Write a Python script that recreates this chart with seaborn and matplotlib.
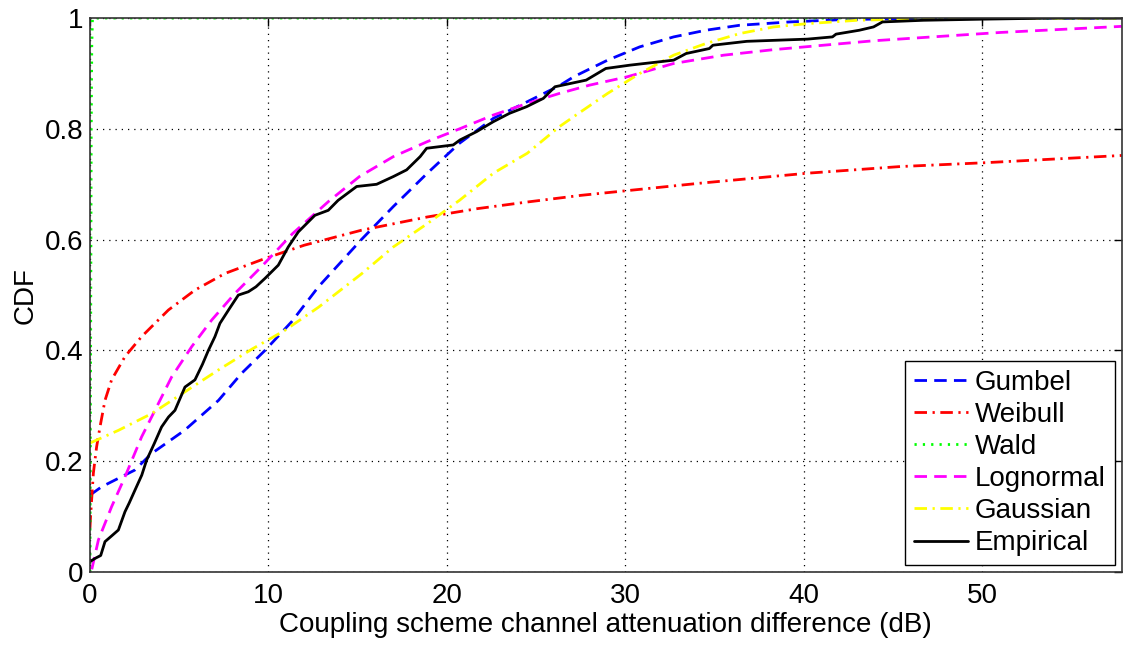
import numpy as np
import pandas as pd
import matplotlib
matplotlib.use("Agg")
import matplotlib.pyplot as plt
import seaborn as sns

# ---- data ----
gumbel_x = [0, 0.65, 2.5, 3.45, 5.3, 7.2, 8.5, 9.8, 11.3, 12.8, 15.2, 17.0, 18.9, 20.7,
            22.6, 24.5, 26.3, 27.1, 29.0, 30.8, 32.7, 34.5, 36.4, 39.2, 42.0, 47.0, 57.8]
gumbel_y = [0.139, 0.154, 0.184, 0.214, 0.256, 0.31, 0.359, 0.40, 0.452, 0.515, 0.600, 0.660,
            0.720, 0.774, 0.819, 0.849, 0.878, 0.894, 0.924, 0.948, 0.966, 0.978, 0.987,
            0.993, 0.997, 1.0, 1.0]

weibull_x = [0.0, 0.03, 0.09, 0.19, 0.37, 0.56, 0.84, 1.21, 1.96, 2.89, 4.39, 5.88, 7.56,
             9.8, 12.0, 15.2, 18.9, 21.7, 24.5, 27.5, 34.2, 40.2, 45.4, 50.2, 57.8]
weibull_y = [0.08, 0.10, 0.13, 0.179, 0.226, 0.262, 0.31, 0.347, 0.389, 0.425, 0.473, 0.509,
             0.539, 0.566, 0.59, 0.617, 0.641, 0.656, 0.668, 0.68, 0.702, 0.72, 0.732,
             0.739, 0.752]

wald_x = [0.0, 0.04, 0.07, 0.1, 0.14, 57.8]
wald_y = [0.0, 0.45, 0.8, 0.95, 1.0, 1.0]

lognormal_x = [0.1, 0.47, 1.21, 1.96, 2.89, 3.64, 4.57, 5.7, 6.82, 8.12, 9.6, 11.35, 13.4,
               15.1, 17.0, 18.9, 20.7, 22.6, 24.5, 26.3, 28.0, 30.1, 32.7, 35.5, 38.3,
               41.1, 43.9, 47.2, 51.0, 57.8]
lognormal_y = [0.005, 0.058, 0.118, 0.172, 0.244, 0.292, 0.352, 0.407, 0.455, 0.503, 0.551,
               0.611, 0.670, 0.714, 0.75, 0.777, 0.80, 0.825, 0.846, 0.864, 0.879, 0.894,
               0.918, 0.933, 0.943, 0.951, 0.959, 0.966, 0.974, 0.985]

gaussian_x = [0, 1.6, 3.45, 5.3, 7.2, 9.1, 10.9, 12.8, 15.2, 17.0, 18.9, 20.7, 22.6, 24.5,
              26.3, 27.1, 29.0, 30.8, 32.7, 34.5, 36.4, 38.3, 40.2, 43.0, 48.0, 57.8]
gaussian_y = [0.233, 0.256, 0.286, 0.325, 0.365, 0.403, 0.436, 0.478, 0.538, 0.587, 0.629,
              0.671, 0.72, 0.756, 0.804, 0.822, 0.864, 0.90, 0.933, 0.954, 0.972, 0.984,
              0.99, 0.996, 1.0, 1.0]

empirical_x = [0.0, 0.3, 0.6, 0.84, 1.2, 1.59, 1.96, 2.2, 2.52, 2.9, 3.17, 3.6, 4.01, 4.4,
               4.76, 5.0, 5.32, 5.88, 6.3, 6.63, 7.0, 7.28, 7.8, 8.31, 8.87, 9.3, 9.8, 10.55,
               11.11, 11.67, 12.6, 13.35, 13.9, 14.94, 16.06, 17.0, 17.74, 18.5, 18.86,
               20.35, 20.73, 21.66, 22.6, 23.5, 24.46, 25.4, 26.05, 27.8, 28.9, 30.25, 32.7,
               33.4, 34.7, 34.9, 36.8, 40.2, 41.6, 41.8, 43.1, 43.9, 44.4, 46.7, 50.0, 54.0,
               57.8]
empirical_y = [0.019, 0.025, 0.03, 0.055, 0.065, 0.076, 0.109, 0.125, 0.148, 0.175, 0.202,
               0.232, 0.262, 0.28, 0.292, 0.31, 0.334, 0.347, 0.375, 0.40, 0.425, 0.449,
               0.475, 0.50, 0.506, 0.515, 0.53, 0.554, 0.587, 0.614, 0.644, 0.653, 0.671,
               0.696, 0.70, 0.714, 0.726, 0.75, 0.765, 0.771, 0.78, 0.795, 0.813, 0.828,
               0.84, 0.855, 0.876, 0.888, 0.909, 0.915, 0.924, 0.936, 0.945, 0.951, 0.958,
               0.962, 0.966, 0.971, 0.978, 0.984, 0.993, 0.996, 0.998, 1.0, 1.0]

x_ticks = [0, 10, 20, 30, 40, 50]
y_ticks = [0, 0.2, 0.4, 0.6, 0.8, 1.0]
y_ticklabels = ["0", "0.2", "0.4", "0.6", "0.8", "1"]

# ---- plotting ----
sns.set_style("white")
plt.rcParams["font.family"] = ["Liberation Sans", "DejaVu Sans"]
plt.rcParams["text.color"] = "black"
plt.rcParams["axes.labelcolor"] = "black"

fig = plt.figure(figsize=(11.25, 6.45), dpi=100)
ax = fig.add_axes([0.08, 0.113, 0.917, 0.859])

series = [
    ("Gumbel", gumbel_x, gumbel_y, "#0000ff", (4.5, 2.6)),
    ("Weibull", weibull_x, weibull_y, "#ff0000", (4.5, 2.0, 0.8, 2.0)),
    ("Wald", wald_x, wald_y, "#00ff00", (0.8, 2.2)),
    ("Lognormal", lognormal_x, lognormal_y, "#ff00ff", (4.5, 2.6)),
    ("Gaussian", gaussian_x, gaussian_y, "#ffff00", (4.5, 2.0, 0.8, 2.0)),
    ("Empirical", empirical_x, empirical_y, "#000000", None),
]

for name, xs, ys, col, dash in series:
    df = pd.DataFrame({"x": xs, "y": ys})
    sns.lineplot(data=df, x="x", y="y", ax=ax, color=col, linewidth=2, label=name,
                 sort=False, estimator=None)
    ln = ax.lines[-1]
    if dash is not None:
        ln.set_dashes(dash)
    else:
        ln.set_linestyle("-")

ax.set_xlim(0, 57.8)
ax.set_ylim(0, 1)
ax.set_xticks(x_ticks)
ax.set_yticks(y_ticks)
ax.set_yticklabels(y_ticklabels)
ax.grid(True, linestyle=(0, (1, 4)), color="black", linewidth=0.9)
ax.tick_params(direction="in", top=True, right=True, length=6, width=1,
               labelsize=20, colors="black", labelcolor="black", pad=5)
ax.tick_params(axis="x", pad=8)
for s in ax.spines.values():
    s.set_color("#333333")
    s.set_linewidth(1.2)
ax.set_xlabel("Coupling scheme channel attenuation difference (dB)", fontsize=20,
              labelpad=2, color="black")
ax.set_ylabel("CDF", fontsize=20, labelpad=4, color="black")

leg = ax.legend(loc="lower right", fontsize=20, frameon=True, fancybox=False,
                edgecolor="black", framealpha=1, handlelength=1.95, handletextpad=0.25,
                labelspacing=0.22, borderaxespad=0.25, borderpad=0.32)
leg.get_frame().set_linewidth(1.0)
for t in leg.get_texts():
    t.set_color("black")

fig.savefig("out.png", dpi=100)
